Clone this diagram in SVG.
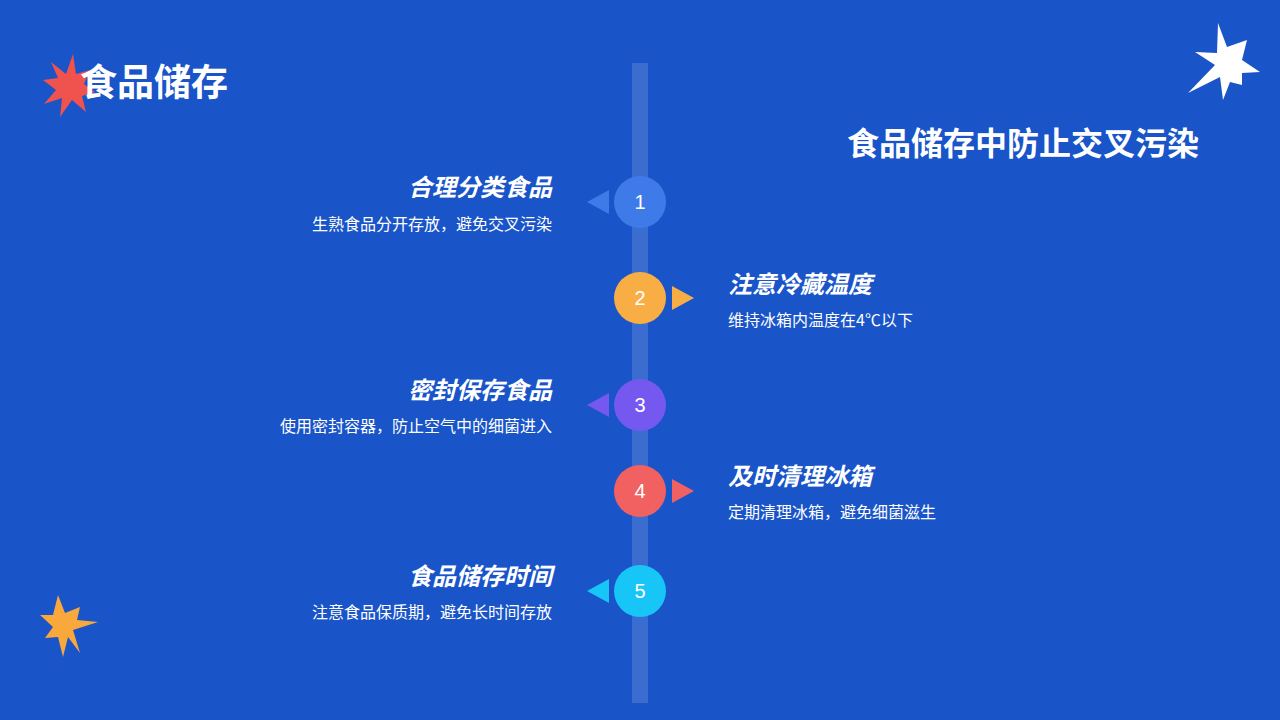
<svg xmlns="http://www.w3.org/2000/svg" width="1280" height="720" viewBox="0 0 1280 720">
<style>
.t{font-family:"Noto Sans CJK SC","Noto Sans",sans-serif;fill:#fff}
.h{font-size:24px;font-weight:bold;font-style:italic}
.d{font-size:16px}
.n{font-family:"Liberation Sans",Arial,sans-serif;font-size:20px;fill:#fff;text-anchor:middle}
</style>
<rect width="1280" height="720" fill="#1954c8"/>
<g id="decor">
<polygon fill="#f0524e" points="73,54 76,74 90,70 84,84 95,92 82,96 86,112 72,100 60,117 62,98 44,104 56,90 43,80 58,78 51,62 66,74"/>
<polygon fill="#ffffff" points="1218,23 1227,47 1247,40 1242,60 1260,72 1242,73 1242,85 1230,82 1223,100 1220,77 1188,93 1215,65 1195,52 1217,53"/>
<polygon fill="#f9a93c" points="58,595 65,613 80,607 77,620 98,622 73,630 80,653 68,637 63,657 58,637 45,638 53,627 40,615 53,615"/>
</g>
<text class="t" x="80" y="96" font-size="37" font-weight="bold">食品储存</text>
<text class="t" x="1199" y="155" font-size="32" font-weight="bold" text-anchor="end">食品储存中防止交叉污染</text>
<g id="connectors">
<rect x="632" y="63" width="16" height="640" fill="#ffffff" fill-opacity="0.15"/>
</g>
<g id="step1">
<polygon points="587,202 609,190 609,214" fill="#3f7be8"/>
<circle cx="640" cy="202" r="26" fill="#3f7be8"/>
<text class="n" x="640" y="209">1</text>
<text class="t h" x="552" y="196" text-anchor="end">合理分类食品</text>
<text class="t d" x="552" y="230" text-anchor="end">生熟食品分开存放，避免交叉污染</text>
</g>
<g id="step2">
<polygon points="694,298 672,286 672,310" fill="#f9ae45"/>
<circle cx="640" cy="298" r="26" fill="#f9ae45"/>
<text class="n" x="640" y="305">2</text>
<text class="t h" x="728" y="293">注意冷藏温度</text>
<text class="t d" x="728" y="326">维持冰箱内温度在4℃以下</text>
</g>
<g id="step3">
<polygon points="587,405 609,393 609,417" fill="#7458f0"/>
<circle cx="640" cy="405" r="26" fill="#7458f0"/>
<text class="n" x="640" y="412">3</text>
<text class="t h" x="552" y="399" text-anchor="end">密封保存食品</text>
<text class="t d" x="552" y="432" text-anchor="end">使用密封容器，防止空气中的细菌进入</text>
</g>
<g id="step4">
<polygon points="694,491 672,479 672,503" fill="#f26161"/>
<circle cx="640" cy="491" r="26" fill="#f26161"/>
<text class="n" x="640" y="498">4</text>
<text class="t h" x="728" y="485">及时清理冰箱</text>
<text class="t d" x="728" y="518">定期清理冰箱，避免细菌滋生</text>
</g>
<g id="step5">
<polygon points="587,591 609,579 609,603" fill="#18c5f7"/>
<circle cx="640" cy="591" r="26" fill="#18c5f7"/>
<text class="n" x="640" y="598">5</text>
<text class="t h" x="552" y="585" text-anchor="end">食品储存时间</text>
<text class="t d" x="552" y="618" text-anchor="end">注意食品保质期，避免长时间存放</text>
</g>
</svg>
